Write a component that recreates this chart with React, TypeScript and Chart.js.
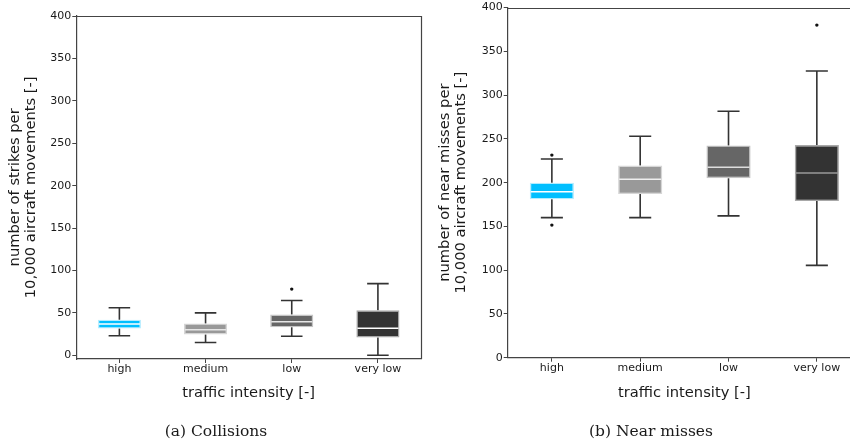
import { useEffect, useRef } from "react";
import { Chart, registerables } from "chart.js";

Chart.register(...registerables);

// Shared categories and box colours
const categories = ["high", "medium", "low", "very low"];
const boxColors = ["#00BFFF", "#999999", "#666666", "#333333"];
const boxEdgeColors = ["#b3ecff", "#d6d6d6", "#c4c4c4", "#a8a8a8"];
const yTickValues = [0, 50, 100, 150, 200, 250, 300, 350, 400];

// (a) Collisions: strikes per 10,000 aircraft movements
const collisionWhiskerLow = [23, 15, 22.5, 0];
const collisionQ1 = [31.5, 24.5, 33, 21];
const collisionMedian = [37, 30, 39.5, 32];
const collisionQ3 = [42, 37.5, 48, 53];
const collisionWhiskerHigh = [56, 50, 64.5, 84.5];
const collisionOutliers = [{ x: "low", y: 78 }];
const collisionMedianColors = ["#ffffff", "#e6e6e6", "#e6e6e6", "#ffffff"];

// (b) Near misses per 10,000 aircraft movements
const nearMissWhiskerLow = [160, 160, 162, 105.5];
const nearMissQ1 = [181, 187, 205, 179];
const nearMissMedian = [189.5, 204, 217.5, 211];
const nearMissQ3 = [200, 219.5, 242.5, 243];
const nearMissWhiskerHigh = [227, 253, 281.5, 327.5];
const nearMissOutliers = [
  { x: "high", y: 231.5 },
  { x: "high", y: 151.5 },
  { x: "very low", y: 380 },
];
const nearMissMedianColors = ["#ffffff", "#eeeeee", "#dddddd", "#9a9a9a"];

type BoxSeries = {
  lo: number[];
  q1: number[];
  med: number[];
  q3: number[];
  hi: number[];
  outliers: { x: string; y: number }[];
  medianColors: string[];
};

type PanelProps = {
  series: BoxSeries;
  left: number;
  width: number;
  height: number;
  yMin: number;
  yMax: number;
  yAxisWidth: number;
  xAxisHeight: number;
  padTop: number;
  padRight: number;
  yTitle: string[];
  yTitlePad: number;
};

const AXIS_COLOR = "#444444";
const TEXT_COLOR = "#1a1a1a";
const SANS = "'DejaVu Sans', sans-serif";

function boxPlugin(s: BoxSeries) {
  return {
    id: "boxWhiskers",
    beforeDatasetsDraw(chart: any) {
      const y = chart.scales.y;
      const bars = chart.getDatasetMeta(0).data;
      const ctx = chart.ctx;
      ctx.save();
      ctx.strokeStyle = "#333333";
      ctx.lineWidth = 1.6;
      bars.forEach((bar: any, i: number) => {
        const { x, width } = bar.getProps(["x", "width"], true);
        const cap = width / 4;
        const yHi = y.getPixelForValue(s.hi[i]);
        const yLo = y.getPixelForValue(s.lo[i]);
        ctx.beginPath();
        ctx.moveTo(x, y.getPixelForValue(s.q3[i]));
        ctx.lineTo(x, yHi);
        ctx.moveTo(x - cap, yHi);
        ctx.lineTo(x + cap, yHi);
        ctx.moveTo(x, y.getPixelForValue(s.q1[i]));
        ctx.lineTo(x, yLo);
        ctx.moveTo(x - cap, yLo);
        ctx.lineTo(x + cap, yLo);
        ctx.stroke();
      });
      ctx.restore();
    },
    afterDatasetsDraw(chart: any) {
      const y = chart.scales.y;
      const bars = chart.getDatasetMeta(0).data;
      const ctx = chart.ctx;
      ctx.save();
      ctx.lineWidth = 1.5;
      bars.forEach((bar: any, i: number) => {
        const { x, width } = bar.getProps(["x", "width"], true);
        const ym = y.getPixelForValue(s.med[i]);
        ctx.strokeStyle = s.medianColors[i];
        ctx.beginPath();
        ctx.moveTo(x - width / 2 + 1, ym);
        ctx.lineTo(x + width / 2 - 1, ym);
        ctx.stroke();
      });
      ctx.restore();
    },
    afterDraw(chart: any) {
      const { left, right, top, bottom } = chart.chartArea;
      const ctx = chart.ctx;
      ctx.save();
      ctx.strokeStyle = AXIS_COLOR;
      ctx.lineWidth = 1.2;
      const t = Math.round(top) + 0.5;
      const r = Math.round(right) + 0.5;
      ctx.beginPath();
      ctx.moveTo(left, t);
      ctx.lineTo(r, t);
      ctx.lineTo(r, bottom);
      ctx.stroke();
      ctx.restore();
    },
  };
}

function BoxPanel(p: PanelProps) {
  const ref = useRef<HTMLCanvasElement>(null);
  useEffect(() => {
    const s = p.series;
    const chart = new Chart(ref.current as HTMLCanvasElement, {
      type: "bar",
      data: {
        labels: categories,
        datasets: [
          {
            type: "bar",
            data: s.q1.map((v, i) => [v, s.q3[i]]) as any,
            backgroundColor: boxColors,
            borderColor: boxEdgeColors,
            borderWidth: 1.4,
            borderSkipped: false,
            barPercentage: 0.5,
            categoryPercentage: 1,
          },
          {
            type: "scatter",
            data: s.outliers as any,
            backgroundColor: "#111111",
            borderWidth: 0,
            pointRadius: 1.7,
          } as any,
        ],
      },
      plugins: [boxPlugin(s)],
      options: {
        responsive: false,
        animation: false,
        events: [],
        layout: {
          padding: { left: 0, right: p.padRight, top: p.padTop, bottom: 0 },
        },
        plugins: {
          legend: { display: false },
          tooltip: { enabled: false },
        },
        scales: {
          x: {
            type: "category",
            offset: true,
            grid: {
              display: true,
              drawOnChartArea: false,
              drawTicks: true,
              tickLength: 4,
              offset: false,
              color: AXIS_COLOR,
              lineWidth: 1,
            },
            border: { display: true, color: AXIS_COLOR, width: 1.2 },
            ticks: {
              color: TEXT_COLOR,
              font: { family: SANS, size: 11 },
              padding: 0,
              maxRotation: 0,
            },
            title: {
              display: true,
              text: "traffic intensity [-]",
              color: TEXT_COLOR,
              font: { family: SANS, size: 14.7, lineHeight: 1.2 },
              padding: { top: 0, bottom: 40.5 },
            },
            afterFit: (scale: any) => {
              scale.height = p.xAxisHeight;
            },
          },
          y: {
            type: "linear",
            min: p.yMin,
            max: p.yMax,
            afterBuildTicks: (axis: any) => {
              axis.ticks = yTickValues.map((v) => ({ value: v }));
            },
            grid: {
              display: true,
              drawOnChartArea: false,
              drawTicks: true,
              tickLength: 4,
              color: AXIS_COLOR,
              lineWidth: 1,
            },
            border: { display: true, color: AXIS_COLOR, width: 1.2 },
            ticks: {
              color: TEXT_COLOR,
              font: { family: SANS, size: 11 },
              padding: 1,
            },
            title: {
              display: true,
              text: p.yTitle,
              color: TEXT_COLOR,
              font: { family: SANS, size: 14.7, lineHeight: 1.13 },
              padding: { top: p.yTitlePad, bottom: 0 },
            },
            afterFit: (scale: any) => {
              scale.width = p.yAxisWidth;
            },
          },
        },
      } as any,
    });
    return () => chart.destroy();
  }, []);
  return (
    <canvas
      ref={ref}
      width={p.width}
      height={p.height}
      style={{
        position: "absolute",
        left: p.left,
        top: 0,
        width: p.width,
        height: p.height,
      }}
    />
  );
}

const captionStyle = {
  position: "absolute" as const,
  top: 431,
  transform: "translate(-50%, -50%)",
  fontFamily: "'DejaVu Serif', serif",
  fontSize: 15.5,
  color: "#1a1a1a",
  whiteSpace: "nowrap" as const,
};

export default function App() {
  const collisions: BoxSeries = {
    lo: collisionWhiskerLow,
    q1: collisionQ1,
    med: collisionMedian,
    q3: collisionQ3,
    hi: collisionWhiskerHigh,
    outliers: collisionOutliers,
    medianColors: collisionMedianColors,
  };
  const nearMisses: BoxSeries = {
    lo: nearMissWhiskerLow,
    q1: nearMissQ1,
    med: nearMissMedian,
    q3: nearMissQ3,
    hi: nearMissWhiskerHigh,
    outliers: nearMissOutliers,
    medianColors: nearMissMedianColors,
  };
  return (
    <div
      style={{
        position: "fixed",
        left: 0,
        top: 0,
        width: 850,
        height: 442,
        overflow: "hidden",
        background: "#ffffff",
      }}
    >
      <BoxPanel
        series={collisions}
        left={0}
        width={425}
        height={442}
        yMin={-4.4}
        yMax={400.4}
        yAxisWidth={76.3}
        xAxisHeight={83}
        padTop={15.7}
        padRight={3.5}
        yTitle={["number of strikes per", "10,000 aircraft movements [-]"]}
        yTitlePad={6.7}
      />
      <BoxPanel
        series={nearMisses}
        left={425}
        width={445}
        height={442}
        yMin={0}
        yMax={400}
        yAxisWidth={82.7}
        xAxisHeight={84.3}
        padTop={7}
        padRight={9}
        yTitle={["number of near misses per", "10,000 aircraft movements [-]"]}
        yTitlePad={11.7}
      />
      <div style={{ ...captionStyle, left: 216 }}>(a) Collisions</div>
      <div style={{ ...captionStyle, left: 651 }}>(b) Near misses</div>
    </div>
  );
}
